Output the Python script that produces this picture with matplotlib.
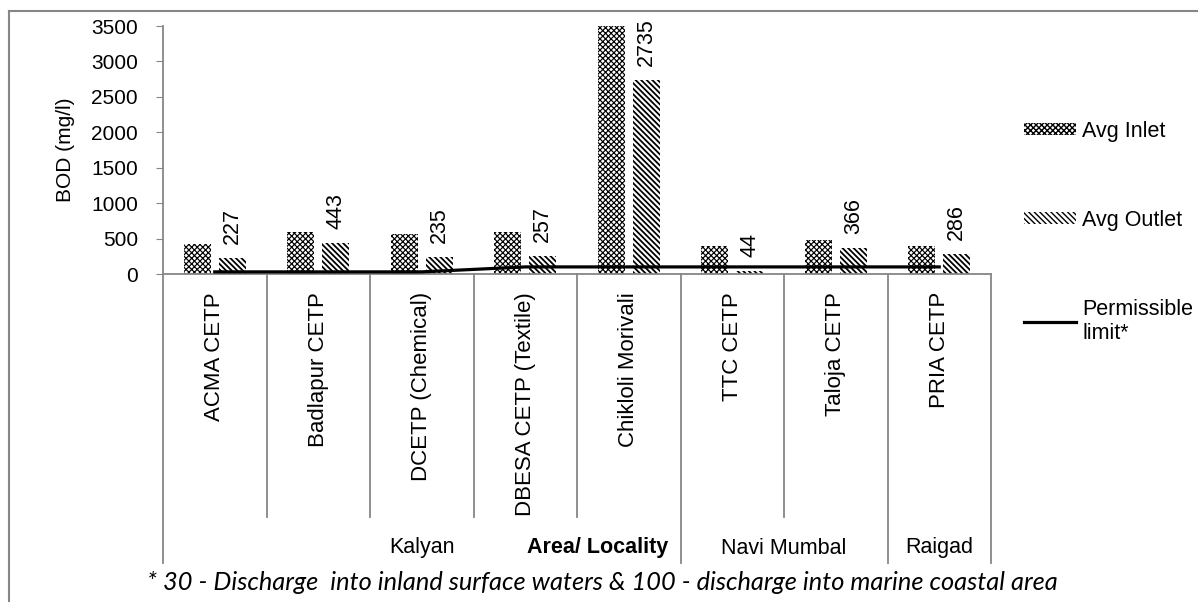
import matplotlib
matplotlib.use("Agg")
import matplotlib.pyplot as plt
import matplotlib.transforms as mtransforms
from matplotlib.lines import Line2D
import numpy as np

# datos
plants = ["ACMA CETP", "Badlapur CETP", "DCETP (Chemical)", "DBESA CETP (Textile)",
          "Chikloli Morivali", "TTC CETP", "Taloja CETP", "PRIA CETP"]
avg_inlet = [420, 590, 560, 590, 3500, 390, 480, 390]
avg_outlet = [227, 443, 235, 257, 2735, 44, 366, 286]
permissible = [30, 30, 30, 100, 100, 100, 100, 100]
groups = ["Kalyan", "Navi Mumbal", "Raigad"]
group_pos = [2.0, 5.5, 7.0]
footnote = "* 30 - Discharge  into inland surface waters & 100 - discharge into marine coastal area"

GRAY = "#868686"
plt.rcParams["font.family"] = ["Liberation Sans", "DejaVu Sans"]

W, H = 1198, 602
fig = plt.figure(figsize=(W / 100, H / 100), dpi=100)
ax = fig.add_axes([163 / W, 1 - 274 / H, (991 - 163) / W, (274 - 26) / H])

x = np.arange(len(plants))
bw = 0.26
with plt.rc_context({"hatch.linewidth": 0.85}):
    b_in = ax.bar(x - 0.17, avg_inlet, bw, color="white", edgecolor="black", linewidth=0,
                  hatch="xxxxxx", label="Avg Inlet")
with plt.rc_context({"hatch.linewidth": 1.3}):
    b_out = ax.bar(x + 0.17, avg_outlet, bw, color="white", edgecolor="black", linewidth=0,
                   hatch="\\" * 6, label="Avg Outlet")
for bars, hlw in [(b_in, 0.85), (b_out, 1.3)]:
    for p in bars:
        if hasattr(p, "set_hatch_linewidth"):
            p.set_hatch_linewidth(hlw)
ln, = ax.plot(x, permissible, color="black", lw=2.3, label="Permissible\nlimit*", zorder=5)

for b, v in zip(b_out, avg_outlet):
    ax.annotate(str(v), (b.get_x() + b.get_width() / 2, v), xytext=(0, 10),
                textcoords="offset points", rotation=90, ha="center", va="bottom",
                fontsize=15.5)

ax.set_xlim(-0.5, len(plants) - 0.5)
ax.set_ylim(0, 3500)
ax.set_yticks(np.arange(0, 3501, 500))
ax.tick_params(axis="y", length=5, color=GRAY, pad=13, labelsize=15)
ax.set_xticks([])
for s in ["top", "right"]:
    ax.spines[s].set_visible(False)
for s in ["left", "bottom"]:
    ax.spines[s].set_color(GRAY)
    ax.spines[s].set_linewidth(1.3)
ax.set_ylabel("BOD (mg/l)", fontsize=15)
ax.yaxis.set_label_coords((75 - 163) / 828, 0.5)

# ejes de categorias en dos niveles
trans = mtransforms.blended_transform_factory(ax.transData, fig.transFigure)
y0, y1, y2 = 1 - 274 / H, 1 - 517 / H, 1 - 563 / H
group_edges = {-0.5, 4.5, 6.5, 7.5}
for e in np.arange(-0.5, len(plants), 1.0):
    yb = y2 if e in group_edges else y1
    ax.add_line(Line2D([e, e], [y0, yb], transform=trans, color=GRAY, lw=1.3, clip_on=False))
for i, name in enumerate(plants):
    ax.text(i, 1 - 292 / H, name, transform=trans, rotation=90, ha="center", va="top",
            fontsize=16)
for g, gx in zip(groups, group_pos):
    ax.text(gx, 1 - 548 / H, g, transform=trans, ha="center", va="center", fontsize=15.5)
ax.text(3.7, 1 - 548 / H, "Area/ Locality", transform=trans, ha="center", va="center",
        fontsize=15.5, fontweight="bold")

ax.legend(handles=[b_in, b_out, ln], loc="upper left", bbox_to_anchor=(1024 / W, 1 - 121 / H),
          bbox_transform=fig.transFigure, frameon=False, fontsize=15.5, borderpad=0,
          borderaxespad=0, handlelength=2.4, handleheight=0.48, handletextpad=0.3,
          labelspacing=3.15)

fig.text(602 / W, 1 - 582 / H, footnote, ha="center", va="center", fontsize=18.3,
         style="italic", family="Lato")

# marco exterior
fig.add_artist(Line2D([9 / W, 1], [1 - 10.7 / H] * 2, transform=fig.transFigure,
                      color=GRAY, lw=1.5))
fig.add_artist(Line2D([9 / W] * 2, [1 - 10.7 / H, 0], transform=fig.transFigure,
                      color=GRAY, lw=1.5))

fig.savefig("out.png", dpi=100)
